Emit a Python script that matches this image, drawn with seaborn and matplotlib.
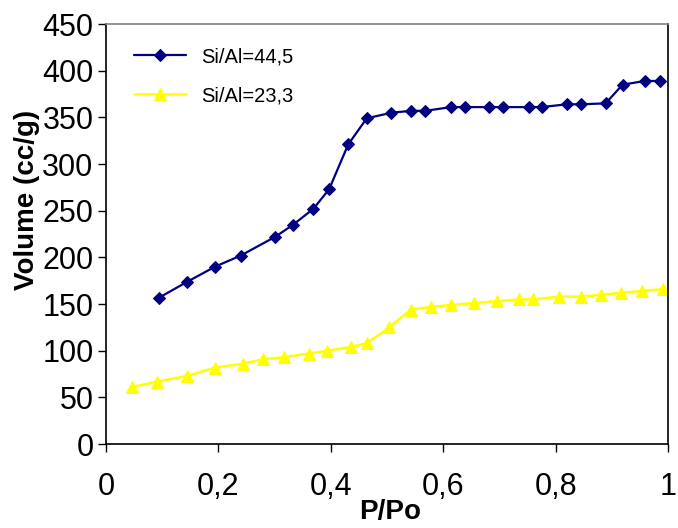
import matplotlib
matplotlib.use("Agg")
import matplotlib.pyplot as plt
import seaborn as sns

# --- DATA ---
si44_pp = [0.095, 0.145, 0.194, 0.240, 0.301, 0.333, 0.369, 0.397, 0.431, 0.464,
           0.508, 0.543, 0.568, 0.614, 0.639, 0.681, 0.707, 0.753, 0.775, 0.820,
           0.845, 0.889, 0.919, 0.959, 0.985]
si44_vol = [157, 174, 190, 202, 222, 235, 252, 273, 321, 349,
            355, 357, 357, 361, 361, 361, 361, 361, 361, 364,
            364, 365, 385, 389, 389]

si23_pp = [0.047, 0.091, 0.145, 0.194, 0.244, 0.280, 0.316, 0.362, 0.394, 0.436,
           0.464, 0.504, 0.542, 0.578, 0.614, 0.654, 0.696, 0.735, 0.760, 0.806,
           0.846, 0.881, 0.917, 0.953, 0.991]
si23_vol = [61, 67, 73, 82, 86, 91, 93, 97, 100, 104,
            108, 125, 144, 147, 149, 151, 153, 155, 155, 158,
            158, 160, 162, 164, 166]

x_ticks = [0, 0.2, 0.4, 0.6, 0.8, 1.0]
x_ticklabels = ["0", "0,2", "0,4", "0,6", "0,8", "1"]
y_ticks = list(range(0, 451, 50))

# --- STYLE ---
sns.set_style("ticks", {"text.color": "black", "axes.labelcolor": "black",
                        "xtick.color": "black", "ytick.color": "black",
                        "axes.edgecolor": "black"})
plt.rcParams["font.family"] = ["Liberation Sans", "DejaVu Sans"]

fig = plt.figure(figsize=(6.78, 5.28), dpi=100)
ax = fig.add_axes([0.1563, 0.159, 0.829, 0.7955])

sns.lineplot(x=si44_pp, y=si44_vol, ax=ax, color="#000080", marker="D",
             markersize=6.5, markeredgecolor="#000080", linewidth=1.6,
             label="Si/Al=44,5")
sns.lineplot(x=si23_pp, y=si23_vol, ax=ax, color="#FFFF00", marker="^",
             markersize=8.5, markeredgecolor="#FFFF00", linewidth=1.8,
             label="Si/Al=23,3")

ax.set_xlim(0, 1)
ax.set_ylim(0, 450)
ax.set_xticks(x_ticks)
ax.set_xticklabels(x_ticklabels)
ax.set_yticks(y_ticks)
ax.tick_params(axis="both", labelsize=22, length=6, width=1, color="black",
               labelcolor="black", direction="out")
ax.tick_params(axis="x", pad=14)
ax.tick_params(axis="y", pad=3)

for side in ["left", "bottom", "right"]:
    ax.spines[side].set_visible(True)
    ax.spines[side].set_color("black")
    ax.spines[side].set_linewidth(1.2)
ax.spines["top"].set_visible(True)
ax.spines["top"].set_color("#808080")
ax.spines["top"].set_linewidth(1.2)

ax.set_xlabel("P/Po", fontsize=20, fontweight="bold", color="black")
ax.set_ylabel("Volume (cc/g)", fontsize=20, fontweight="bold", color="black")
ax.xaxis.set_label_coords(0.505, -0.13)
ax.xaxis.label.set_va("top")
ax.yaxis.set_label_coords(-0.118, 0.58)

leg = ax.legend(loc="upper left", bbox_to_anchor=(0.05, 0.945), frameon=False,
                fontsize=14.5, handlelength=2.6, handletextpad=0.75,
                labelspacing=1.0, borderpad=0, borderaxespad=0)
for t in leg.get_texts():
    t.set_color("black")

fig.savefig("out.png", dpi=100)
